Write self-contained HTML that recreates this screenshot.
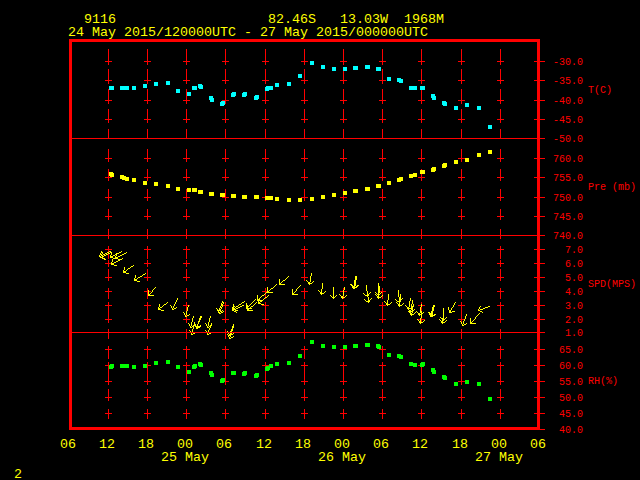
<!DOCTYPE html>
<html><head><meta charset="utf-8"><title>Meteogram 9116</title>
<style>
html,body{margin:0;padding:0;background:#000;overflow:hidden}
svg{display:block}
text{font-family:"Liberation Mono","DejaVu Sans Mono",monospace;white-space:pre}
</style></head><body>
<svg width="640" height="480" viewBox="0 0 640 480">
<rect width="640" height="480" fill="#000"/>
<g shape-rendering="crispEdges">
<g fill="#ff0000"><rect x="69" y="39" width="471" height="3"/><rect x="69" y="427" width="471" height="3"/><rect x="69" y="39" width="3" height="391"/><rect x="537" y="39" width="3" height="391"/><rect x="540" y="429" width="5" height="1"/><rect x="534" y="61" width="11" height="1"/><rect x="534" y="80" width="11" height="1"/><rect x="534" y="100" width="11" height="1"/><rect x="534" y="119" width="11" height="1"/><rect x="534" y="158" width="11" height="1"/><rect x="534" y="177" width="11" height="1"/><rect x="534" y="197" width="11" height="1"/><rect x="534" y="216" width="11" height="1"/><rect x="534" y="249" width="11" height="1"/><rect x="534" y="263" width="11" height="1"/><rect x="534" y="277" width="11" height="1"/><rect x="534" y="291" width="11" height="1"/><rect x="534" y="305" width="11" height="1"/><rect x="534" y="319" width="11" height="1"/><rect x="534" y="349" width="11" height="1"/><rect x="534" y="365" width="11" height="1"/><rect x="534" y="381" width="11" height="1"/><rect x="534" y="397" width="11" height="1"/><rect x="534" y="413" width="11" height="1"/><rect x="108" y="49" width="1" height="10"/><rect x="108" y="69" width="1" height="10"/><rect x="108" y="89" width="1" height="10"/><rect x="108" y="109" width="1" height="10"/><rect x="108" y="129" width="1" height="10"/><rect x="108" y="149" width="1" height="10"/><rect x="108" y="169" width="1" height="10"/><rect x="108" y="189" width="1" height="10"/><rect x="108" y="209" width="1" height="10"/><rect x="108" y="229" width="1" height="10"/><rect x="108" y="249" width="1" height="10"/><rect x="108" y="269" width="1" height="10"/><rect x="108" y="289" width="1" height="10"/><rect x="108" y="309" width="1" height="10"/><rect x="108" y="329" width="1" height="10"/><rect x="108" y="349" width="1" height="10"/><rect x="108" y="369" width="1" height="10"/><rect x="108" y="389" width="1" height="10"/><rect x="108" y="409" width="1" height="10"/><rect x="105" y="61" width="7" height="1"/><rect x="108" y="58" width="1" height="7"/><rect x="105" y="80" width="7" height="1"/><rect x="108" y="77" width="1" height="7"/><rect x="105" y="100" width="7" height="1"/><rect x="108" y="97" width="1" height="7"/><rect x="105" y="119" width="7" height="1"/><rect x="108" y="116" width="1" height="7"/><rect x="105" y="158" width="7" height="1"/><rect x="108" y="155" width="1" height="7"/><rect x="105" y="177" width="7" height="1"/><rect x="108" y="174" width="1" height="7"/><rect x="105" y="197" width="7" height="1"/><rect x="108" y="194" width="1" height="7"/><rect x="105" y="216" width="7" height="1"/><rect x="108" y="213" width="1" height="7"/><rect x="105" y="249" width="7" height="1"/><rect x="108" y="246" width="1" height="7"/><rect x="105" y="263" width="7" height="1"/><rect x="108" y="260" width="1" height="7"/><rect x="105" y="277" width="7" height="1"/><rect x="108" y="274" width="1" height="7"/><rect x="105" y="291" width="7" height="1"/><rect x="108" y="288" width="1" height="7"/><rect x="105" y="305" width="7" height="1"/><rect x="108" y="302" width="1" height="7"/><rect x="105" y="319" width="7" height="1"/><rect x="108" y="316" width="1" height="7"/><rect x="105" y="349" width="7" height="1"/><rect x="108" y="346" width="1" height="7"/><rect x="105" y="365" width="7" height="1"/><rect x="108" y="362" width="1" height="7"/><rect x="105" y="381" width="7" height="1"/><rect x="108" y="378" width="1" height="7"/><rect x="105" y="397" width="7" height="1"/><rect x="108" y="394" width="1" height="7"/><rect x="105" y="413" width="7" height="1"/><rect x="108" y="410" width="1" height="7"/><rect x="147" y="49" width="1" height="10"/><rect x="147" y="69" width="1" height="10"/><rect x="147" y="89" width="1" height="10"/><rect x="147" y="109" width="1" height="10"/><rect x="147" y="129" width="1" height="10"/><rect x="147" y="149" width="1" height="10"/><rect x="147" y="169" width="1" height="10"/><rect x="147" y="189" width="1" height="10"/><rect x="147" y="209" width="1" height="10"/><rect x="147" y="229" width="1" height="10"/><rect x="147" y="249" width="1" height="10"/><rect x="147" y="269" width="1" height="10"/><rect x="147" y="289" width="1" height="10"/><rect x="147" y="309" width="1" height="10"/><rect x="147" y="329" width="1" height="10"/><rect x="147" y="349" width="1" height="10"/><rect x="147" y="369" width="1" height="10"/><rect x="147" y="389" width="1" height="10"/><rect x="147" y="409" width="1" height="10"/><rect x="144" y="61" width="7" height="1"/><rect x="147" y="58" width="1" height="7"/><rect x="144" y="80" width="7" height="1"/><rect x="147" y="77" width="1" height="7"/><rect x="144" y="100" width="7" height="1"/><rect x="147" y="97" width="1" height="7"/><rect x="144" y="119" width="7" height="1"/><rect x="147" y="116" width="1" height="7"/><rect x="144" y="158" width="7" height="1"/><rect x="147" y="155" width="1" height="7"/><rect x="144" y="177" width="7" height="1"/><rect x="147" y="174" width="1" height="7"/><rect x="144" y="197" width="7" height="1"/><rect x="147" y="194" width="1" height="7"/><rect x="144" y="216" width="7" height="1"/><rect x="147" y="213" width="1" height="7"/><rect x="144" y="249" width="7" height="1"/><rect x="147" y="246" width="1" height="7"/><rect x="144" y="263" width="7" height="1"/><rect x="147" y="260" width="1" height="7"/><rect x="144" y="277" width="7" height="1"/><rect x="147" y="274" width="1" height="7"/><rect x="144" y="291" width="7" height="1"/><rect x="147" y="288" width="1" height="7"/><rect x="144" y="305" width="7" height="1"/><rect x="147" y="302" width="1" height="7"/><rect x="144" y="319" width="7" height="1"/><rect x="147" y="316" width="1" height="7"/><rect x="144" y="349" width="7" height="1"/><rect x="147" y="346" width="1" height="7"/><rect x="144" y="365" width="7" height="1"/><rect x="147" y="362" width="1" height="7"/><rect x="144" y="381" width="7" height="1"/><rect x="147" y="378" width="1" height="7"/><rect x="144" y="397" width="7" height="1"/><rect x="147" y="394" width="1" height="7"/><rect x="144" y="413" width="7" height="1"/><rect x="147" y="410" width="1" height="7"/><rect x="186" y="49" width="1" height="10"/><rect x="186" y="69" width="1" height="10"/><rect x="186" y="89" width="1" height="10"/><rect x="186" y="109" width="1" height="10"/><rect x="186" y="129" width="1" height="10"/><rect x="186" y="149" width="1" height="10"/><rect x="186" y="169" width="1" height="10"/><rect x="186" y="189" width="1" height="10"/><rect x="186" y="209" width="1" height="10"/><rect x="186" y="229" width="1" height="10"/><rect x="186" y="249" width="1" height="10"/><rect x="186" y="269" width="1" height="10"/><rect x="186" y="289" width="1" height="10"/><rect x="186" y="309" width="1" height="10"/><rect x="186" y="329" width="1" height="10"/><rect x="186" y="349" width="1" height="10"/><rect x="186" y="369" width="1" height="10"/><rect x="186" y="389" width="1" height="10"/><rect x="186" y="409" width="1" height="10"/><rect x="183" y="61" width="7" height="1"/><rect x="186" y="58" width="1" height="7"/><rect x="183" y="80" width="7" height="1"/><rect x="186" y="77" width="1" height="7"/><rect x="183" y="100" width="7" height="1"/><rect x="186" y="97" width="1" height="7"/><rect x="183" y="119" width="7" height="1"/><rect x="186" y="116" width="1" height="7"/><rect x="183" y="158" width="7" height="1"/><rect x="186" y="155" width="1" height="7"/><rect x="183" y="177" width="7" height="1"/><rect x="186" y="174" width="1" height="7"/><rect x="183" y="197" width="7" height="1"/><rect x="186" y="194" width="1" height="7"/><rect x="183" y="216" width="7" height="1"/><rect x="186" y="213" width="1" height="7"/><rect x="183" y="249" width="7" height="1"/><rect x="186" y="246" width="1" height="7"/><rect x="183" y="263" width="7" height="1"/><rect x="186" y="260" width="1" height="7"/><rect x="183" y="277" width="7" height="1"/><rect x="186" y="274" width="1" height="7"/><rect x="183" y="291" width="7" height="1"/><rect x="186" y="288" width="1" height="7"/><rect x="183" y="305" width="7" height="1"/><rect x="186" y="302" width="1" height="7"/><rect x="183" y="319" width="7" height="1"/><rect x="186" y="316" width="1" height="7"/><rect x="183" y="349" width="7" height="1"/><rect x="186" y="346" width="1" height="7"/><rect x="183" y="365" width="7" height="1"/><rect x="186" y="362" width="1" height="7"/><rect x="183" y="381" width="7" height="1"/><rect x="186" y="378" width="1" height="7"/><rect x="183" y="397" width="7" height="1"/><rect x="186" y="394" width="1" height="7"/><rect x="183" y="413" width="7" height="1"/><rect x="186" y="410" width="1" height="7"/><rect x="225" y="49" width="1" height="10"/><rect x="225" y="69" width="1" height="10"/><rect x="225" y="89" width="1" height="10"/><rect x="225" y="109" width="1" height="10"/><rect x="225" y="129" width="1" height="10"/><rect x="225" y="149" width="1" height="10"/><rect x="225" y="169" width="1" height="10"/><rect x="225" y="189" width="1" height="10"/><rect x="225" y="209" width="1" height="10"/><rect x="225" y="229" width="1" height="10"/><rect x="225" y="249" width="1" height="10"/><rect x="225" y="269" width="1" height="10"/><rect x="225" y="289" width="1" height="10"/><rect x="225" y="309" width="1" height="10"/><rect x="225" y="329" width="1" height="10"/><rect x="225" y="349" width="1" height="10"/><rect x="225" y="369" width="1" height="10"/><rect x="225" y="389" width="1" height="10"/><rect x="225" y="409" width="1" height="10"/><rect x="222" y="61" width="7" height="1"/><rect x="225" y="58" width="1" height="7"/><rect x="222" y="80" width="7" height="1"/><rect x="225" y="77" width="1" height="7"/><rect x="222" y="100" width="7" height="1"/><rect x="225" y="97" width="1" height="7"/><rect x="222" y="119" width="7" height="1"/><rect x="225" y="116" width="1" height="7"/><rect x="222" y="158" width="7" height="1"/><rect x="225" y="155" width="1" height="7"/><rect x="222" y="177" width="7" height="1"/><rect x="225" y="174" width="1" height="7"/><rect x="222" y="197" width="7" height="1"/><rect x="225" y="194" width="1" height="7"/><rect x="222" y="216" width="7" height="1"/><rect x="225" y="213" width="1" height="7"/><rect x="222" y="249" width="7" height="1"/><rect x="225" y="246" width="1" height="7"/><rect x="222" y="263" width="7" height="1"/><rect x="225" y="260" width="1" height="7"/><rect x="222" y="277" width="7" height="1"/><rect x="225" y="274" width="1" height="7"/><rect x="222" y="291" width="7" height="1"/><rect x="225" y="288" width="1" height="7"/><rect x="222" y="305" width="7" height="1"/><rect x="225" y="302" width="1" height="7"/><rect x="222" y="319" width="7" height="1"/><rect x="225" y="316" width="1" height="7"/><rect x="222" y="349" width="7" height="1"/><rect x="225" y="346" width="1" height="7"/><rect x="222" y="365" width="7" height="1"/><rect x="225" y="362" width="1" height="7"/><rect x="222" y="381" width="7" height="1"/><rect x="225" y="378" width="1" height="7"/><rect x="222" y="397" width="7" height="1"/><rect x="225" y="394" width="1" height="7"/><rect x="222" y="413" width="7" height="1"/><rect x="225" y="410" width="1" height="7"/><rect x="265" y="49" width="1" height="10"/><rect x="265" y="69" width="1" height="10"/><rect x="265" y="89" width="1" height="10"/><rect x="265" y="109" width="1" height="10"/><rect x="265" y="129" width="1" height="10"/><rect x="265" y="149" width="1" height="10"/><rect x="265" y="169" width="1" height="10"/><rect x="265" y="189" width="1" height="10"/><rect x="265" y="209" width="1" height="10"/><rect x="265" y="229" width="1" height="10"/><rect x="265" y="249" width="1" height="10"/><rect x="265" y="269" width="1" height="10"/><rect x="265" y="289" width="1" height="10"/><rect x="265" y="309" width="1" height="10"/><rect x="265" y="329" width="1" height="10"/><rect x="265" y="349" width="1" height="10"/><rect x="265" y="369" width="1" height="10"/><rect x="265" y="389" width="1" height="10"/><rect x="265" y="409" width="1" height="10"/><rect x="262" y="61" width="7" height="1"/><rect x="265" y="58" width="1" height="7"/><rect x="262" y="80" width="7" height="1"/><rect x="265" y="77" width="1" height="7"/><rect x="262" y="100" width="7" height="1"/><rect x="265" y="97" width="1" height="7"/><rect x="262" y="119" width="7" height="1"/><rect x="265" y="116" width="1" height="7"/><rect x="262" y="158" width="7" height="1"/><rect x="265" y="155" width="1" height="7"/><rect x="262" y="177" width="7" height="1"/><rect x="265" y="174" width="1" height="7"/><rect x="262" y="197" width="7" height="1"/><rect x="265" y="194" width="1" height="7"/><rect x="262" y="216" width="7" height="1"/><rect x="265" y="213" width="1" height="7"/><rect x="262" y="249" width="7" height="1"/><rect x="265" y="246" width="1" height="7"/><rect x="262" y="263" width="7" height="1"/><rect x="265" y="260" width="1" height="7"/><rect x="262" y="277" width="7" height="1"/><rect x="265" y="274" width="1" height="7"/><rect x="262" y="291" width="7" height="1"/><rect x="265" y="288" width="1" height="7"/><rect x="262" y="305" width="7" height="1"/><rect x="265" y="302" width="1" height="7"/><rect x="262" y="319" width="7" height="1"/><rect x="265" y="316" width="1" height="7"/><rect x="262" y="349" width="7" height="1"/><rect x="265" y="346" width="1" height="7"/><rect x="262" y="365" width="7" height="1"/><rect x="265" y="362" width="1" height="7"/><rect x="262" y="381" width="7" height="1"/><rect x="265" y="378" width="1" height="7"/><rect x="262" y="397" width="7" height="1"/><rect x="265" y="394" width="1" height="7"/><rect x="262" y="413" width="7" height="1"/><rect x="265" y="410" width="1" height="7"/><rect x="304" y="49" width="1" height="10"/><rect x="304" y="69" width="1" height="10"/><rect x="304" y="89" width="1" height="10"/><rect x="304" y="109" width="1" height="10"/><rect x="304" y="129" width="1" height="10"/><rect x="304" y="149" width="1" height="10"/><rect x="304" y="169" width="1" height="10"/><rect x="304" y="189" width="1" height="10"/><rect x="304" y="209" width="1" height="10"/><rect x="304" y="229" width="1" height="10"/><rect x="304" y="249" width="1" height="10"/><rect x="304" y="269" width="1" height="10"/><rect x="304" y="289" width="1" height="10"/><rect x="304" y="309" width="1" height="10"/><rect x="304" y="329" width="1" height="10"/><rect x="304" y="349" width="1" height="10"/><rect x="304" y="369" width="1" height="10"/><rect x="304" y="389" width="1" height="10"/><rect x="304" y="409" width="1" height="10"/><rect x="301" y="61" width="7" height="1"/><rect x="304" y="58" width="1" height="7"/><rect x="301" y="80" width="7" height="1"/><rect x="304" y="77" width="1" height="7"/><rect x="301" y="100" width="7" height="1"/><rect x="304" y="97" width="1" height="7"/><rect x="301" y="119" width="7" height="1"/><rect x="304" y="116" width="1" height="7"/><rect x="301" y="158" width="7" height="1"/><rect x="304" y="155" width="1" height="7"/><rect x="301" y="177" width="7" height="1"/><rect x="304" y="174" width="1" height="7"/><rect x="301" y="197" width="7" height="1"/><rect x="304" y="194" width="1" height="7"/><rect x="301" y="216" width="7" height="1"/><rect x="304" y="213" width="1" height="7"/><rect x="301" y="249" width="7" height="1"/><rect x="304" y="246" width="1" height="7"/><rect x="301" y="263" width="7" height="1"/><rect x="304" y="260" width="1" height="7"/><rect x="301" y="277" width="7" height="1"/><rect x="304" y="274" width="1" height="7"/><rect x="301" y="291" width="7" height="1"/><rect x="304" y="288" width="1" height="7"/><rect x="301" y="305" width="7" height="1"/><rect x="304" y="302" width="1" height="7"/><rect x="301" y="319" width="7" height="1"/><rect x="304" y="316" width="1" height="7"/><rect x="301" y="349" width="7" height="1"/><rect x="304" y="346" width="1" height="7"/><rect x="301" y="365" width="7" height="1"/><rect x="304" y="362" width="1" height="7"/><rect x="301" y="381" width="7" height="1"/><rect x="304" y="378" width="1" height="7"/><rect x="301" y="397" width="7" height="1"/><rect x="304" y="394" width="1" height="7"/><rect x="301" y="413" width="7" height="1"/><rect x="304" y="410" width="1" height="7"/><rect x="343" y="49" width="1" height="10"/><rect x="343" y="69" width="1" height="10"/><rect x="343" y="89" width="1" height="10"/><rect x="343" y="109" width="1" height="10"/><rect x="343" y="129" width="1" height="10"/><rect x="343" y="149" width="1" height="10"/><rect x="343" y="169" width="1" height="10"/><rect x="343" y="189" width="1" height="10"/><rect x="343" y="209" width="1" height="10"/><rect x="343" y="229" width="1" height="10"/><rect x="343" y="249" width="1" height="10"/><rect x="343" y="269" width="1" height="10"/><rect x="343" y="289" width="1" height="10"/><rect x="343" y="309" width="1" height="10"/><rect x="343" y="329" width="1" height="10"/><rect x="343" y="349" width="1" height="10"/><rect x="343" y="369" width="1" height="10"/><rect x="343" y="389" width="1" height="10"/><rect x="343" y="409" width="1" height="10"/><rect x="340" y="61" width="7" height="1"/><rect x="343" y="58" width="1" height="7"/><rect x="340" y="80" width="7" height="1"/><rect x="343" y="77" width="1" height="7"/><rect x="340" y="100" width="7" height="1"/><rect x="343" y="97" width="1" height="7"/><rect x="340" y="119" width="7" height="1"/><rect x="343" y="116" width="1" height="7"/><rect x="340" y="158" width="7" height="1"/><rect x="343" y="155" width="1" height="7"/><rect x="340" y="177" width="7" height="1"/><rect x="343" y="174" width="1" height="7"/><rect x="340" y="197" width="7" height="1"/><rect x="343" y="194" width="1" height="7"/><rect x="340" y="216" width="7" height="1"/><rect x="343" y="213" width="1" height="7"/><rect x="340" y="249" width="7" height="1"/><rect x="343" y="246" width="1" height="7"/><rect x="340" y="263" width="7" height="1"/><rect x="343" y="260" width="1" height="7"/><rect x="340" y="277" width="7" height="1"/><rect x="343" y="274" width="1" height="7"/><rect x="340" y="291" width="7" height="1"/><rect x="343" y="288" width="1" height="7"/><rect x="340" y="305" width="7" height="1"/><rect x="343" y="302" width="1" height="7"/><rect x="340" y="319" width="7" height="1"/><rect x="343" y="316" width="1" height="7"/><rect x="340" y="349" width="7" height="1"/><rect x="343" y="346" width="1" height="7"/><rect x="340" y="365" width="7" height="1"/><rect x="343" y="362" width="1" height="7"/><rect x="340" y="381" width="7" height="1"/><rect x="343" y="378" width="1" height="7"/><rect x="340" y="397" width="7" height="1"/><rect x="343" y="394" width="1" height="7"/><rect x="340" y="413" width="7" height="1"/><rect x="343" y="410" width="1" height="7"/><rect x="382" y="49" width="1" height="10"/><rect x="382" y="69" width="1" height="10"/><rect x="382" y="89" width="1" height="10"/><rect x="382" y="109" width="1" height="10"/><rect x="382" y="129" width="1" height="10"/><rect x="382" y="149" width="1" height="10"/><rect x="382" y="169" width="1" height="10"/><rect x="382" y="189" width="1" height="10"/><rect x="382" y="209" width="1" height="10"/><rect x="382" y="229" width="1" height="10"/><rect x="382" y="249" width="1" height="10"/><rect x="382" y="269" width="1" height="10"/><rect x="382" y="289" width="1" height="10"/><rect x="382" y="309" width="1" height="10"/><rect x="382" y="329" width="1" height="10"/><rect x="382" y="349" width="1" height="10"/><rect x="382" y="369" width="1" height="10"/><rect x="382" y="389" width="1" height="10"/><rect x="382" y="409" width="1" height="10"/><rect x="379" y="61" width="7" height="1"/><rect x="382" y="58" width="1" height="7"/><rect x="379" y="80" width="7" height="1"/><rect x="382" y="77" width="1" height="7"/><rect x="379" y="100" width="7" height="1"/><rect x="382" y="97" width="1" height="7"/><rect x="379" y="119" width="7" height="1"/><rect x="382" y="116" width="1" height="7"/><rect x="379" y="158" width="7" height="1"/><rect x="382" y="155" width="1" height="7"/><rect x="379" y="177" width="7" height="1"/><rect x="382" y="174" width="1" height="7"/><rect x="379" y="197" width="7" height="1"/><rect x="382" y="194" width="1" height="7"/><rect x="379" y="216" width="7" height="1"/><rect x="382" y="213" width="1" height="7"/><rect x="379" y="249" width="7" height="1"/><rect x="382" y="246" width="1" height="7"/><rect x="379" y="263" width="7" height="1"/><rect x="382" y="260" width="1" height="7"/><rect x="379" y="277" width="7" height="1"/><rect x="382" y="274" width="1" height="7"/><rect x="379" y="291" width="7" height="1"/><rect x="382" y="288" width="1" height="7"/><rect x="379" y="305" width="7" height="1"/><rect x="382" y="302" width="1" height="7"/><rect x="379" y="319" width="7" height="1"/><rect x="382" y="316" width="1" height="7"/><rect x="379" y="349" width="7" height="1"/><rect x="382" y="346" width="1" height="7"/><rect x="379" y="365" width="7" height="1"/><rect x="382" y="362" width="1" height="7"/><rect x="379" y="381" width="7" height="1"/><rect x="382" y="378" width="1" height="7"/><rect x="379" y="397" width="7" height="1"/><rect x="382" y="394" width="1" height="7"/><rect x="379" y="413" width="7" height="1"/><rect x="382" y="410" width="1" height="7"/><rect x="421" y="49" width="1" height="10"/><rect x="421" y="69" width="1" height="10"/><rect x="421" y="89" width="1" height="10"/><rect x="421" y="109" width="1" height="10"/><rect x="421" y="129" width="1" height="10"/><rect x="421" y="149" width="1" height="10"/><rect x="421" y="169" width="1" height="10"/><rect x="421" y="189" width="1" height="10"/><rect x="421" y="209" width="1" height="10"/><rect x="421" y="229" width="1" height="10"/><rect x="421" y="249" width="1" height="10"/><rect x="421" y="269" width="1" height="10"/><rect x="421" y="289" width="1" height="10"/><rect x="421" y="309" width="1" height="10"/><rect x="421" y="329" width="1" height="10"/><rect x="421" y="349" width="1" height="10"/><rect x="421" y="369" width="1" height="10"/><rect x="421" y="389" width="1" height="10"/><rect x="421" y="409" width="1" height="10"/><rect x="418" y="61" width="7" height="1"/><rect x="421" y="58" width="1" height="7"/><rect x="418" y="80" width="7" height="1"/><rect x="421" y="77" width="1" height="7"/><rect x="418" y="100" width="7" height="1"/><rect x="421" y="97" width="1" height="7"/><rect x="418" y="119" width="7" height="1"/><rect x="421" y="116" width="1" height="7"/><rect x="418" y="158" width="7" height="1"/><rect x="421" y="155" width="1" height="7"/><rect x="418" y="177" width="7" height="1"/><rect x="421" y="174" width="1" height="7"/><rect x="418" y="197" width="7" height="1"/><rect x="421" y="194" width="1" height="7"/><rect x="418" y="216" width="7" height="1"/><rect x="421" y="213" width="1" height="7"/><rect x="418" y="249" width="7" height="1"/><rect x="421" y="246" width="1" height="7"/><rect x="418" y="263" width="7" height="1"/><rect x="421" y="260" width="1" height="7"/><rect x="418" y="277" width="7" height="1"/><rect x="421" y="274" width="1" height="7"/><rect x="418" y="291" width="7" height="1"/><rect x="421" y="288" width="1" height="7"/><rect x="418" y="305" width="7" height="1"/><rect x="421" y="302" width="1" height="7"/><rect x="418" y="319" width="7" height="1"/><rect x="421" y="316" width="1" height="7"/><rect x="418" y="349" width="7" height="1"/><rect x="421" y="346" width="1" height="7"/><rect x="418" y="365" width="7" height="1"/><rect x="421" y="362" width="1" height="7"/><rect x="418" y="381" width="7" height="1"/><rect x="421" y="378" width="1" height="7"/><rect x="418" y="397" width="7" height="1"/><rect x="421" y="394" width="1" height="7"/><rect x="418" y="413" width="7" height="1"/><rect x="421" y="410" width="1" height="7"/><rect x="461" y="49" width="1" height="10"/><rect x="461" y="69" width="1" height="10"/><rect x="461" y="89" width="1" height="10"/><rect x="461" y="109" width="1" height="10"/><rect x="461" y="129" width="1" height="10"/><rect x="461" y="149" width="1" height="10"/><rect x="461" y="169" width="1" height="10"/><rect x="461" y="189" width="1" height="10"/><rect x="461" y="209" width="1" height="10"/><rect x="461" y="229" width="1" height="10"/><rect x="461" y="249" width="1" height="10"/><rect x="461" y="269" width="1" height="10"/><rect x="461" y="289" width="1" height="10"/><rect x="461" y="309" width="1" height="10"/><rect x="461" y="329" width="1" height="10"/><rect x="461" y="349" width="1" height="10"/><rect x="461" y="369" width="1" height="10"/><rect x="461" y="389" width="1" height="10"/><rect x="461" y="409" width="1" height="10"/><rect x="458" y="61" width="7" height="1"/><rect x="461" y="58" width="1" height="7"/><rect x="458" y="80" width="7" height="1"/><rect x="461" y="77" width="1" height="7"/><rect x="458" y="100" width="7" height="1"/><rect x="461" y="97" width="1" height="7"/><rect x="458" y="119" width="7" height="1"/><rect x="461" y="116" width="1" height="7"/><rect x="458" y="158" width="7" height="1"/><rect x="461" y="155" width="1" height="7"/><rect x="458" y="177" width="7" height="1"/><rect x="461" y="174" width="1" height="7"/><rect x="458" y="197" width="7" height="1"/><rect x="461" y="194" width="1" height="7"/><rect x="458" y="216" width="7" height="1"/><rect x="461" y="213" width="1" height="7"/><rect x="458" y="249" width="7" height="1"/><rect x="461" y="246" width="1" height="7"/><rect x="458" y="263" width="7" height="1"/><rect x="461" y="260" width="1" height="7"/><rect x="458" y="277" width="7" height="1"/><rect x="461" y="274" width="1" height="7"/><rect x="458" y="291" width="7" height="1"/><rect x="461" y="288" width="1" height="7"/><rect x="458" y="305" width="7" height="1"/><rect x="461" y="302" width="1" height="7"/><rect x="458" y="319" width="7" height="1"/><rect x="461" y="316" width="1" height="7"/><rect x="458" y="349" width="7" height="1"/><rect x="461" y="346" width="1" height="7"/><rect x="458" y="365" width="7" height="1"/><rect x="461" y="362" width="1" height="7"/><rect x="458" y="381" width="7" height="1"/><rect x="461" y="378" width="1" height="7"/><rect x="458" y="397" width="7" height="1"/><rect x="461" y="394" width="1" height="7"/><rect x="458" y="413" width="7" height="1"/><rect x="461" y="410" width="1" height="7"/><rect x="500" y="49" width="1" height="10"/><rect x="500" y="69" width="1" height="10"/><rect x="500" y="89" width="1" height="10"/><rect x="500" y="109" width="1" height="10"/><rect x="500" y="129" width="1" height="10"/><rect x="500" y="149" width="1" height="10"/><rect x="500" y="169" width="1" height="10"/><rect x="500" y="189" width="1" height="10"/><rect x="500" y="209" width="1" height="10"/><rect x="500" y="229" width="1" height="10"/><rect x="500" y="249" width="1" height="10"/><rect x="500" y="269" width="1" height="10"/><rect x="500" y="289" width="1" height="10"/><rect x="500" y="309" width="1" height="10"/><rect x="500" y="329" width="1" height="10"/><rect x="500" y="349" width="1" height="10"/><rect x="500" y="369" width="1" height="10"/><rect x="500" y="389" width="1" height="10"/><rect x="500" y="409" width="1" height="10"/><rect x="497" y="61" width="7" height="1"/><rect x="500" y="58" width="1" height="7"/><rect x="497" y="80" width="7" height="1"/><rect x="500" y="77" width="1" height="7"/><rect x="497" y="100" width="7" height="1"/><rect x="500" y="97" width="1" height="7"/><rect x="497" y="119" width="7" height="1"/><rect x="500" y="116" width="1" height="7"/><rect x="497" y="158" width="7" height="1"/><rect x="500" y="155" width="1" height="7"/><rect x="497" y="177" width="7" height="1"/><rect x="500" y="174" width="1" height="7"/><rect x="497" y="197" width="7" height="1"/><rect x="500" y="194" width="1" height="7"/><rect x="497" y="216" width="7" height="1"/><rect x="500" y="213" width="1" height="7"/><rect x="497" y="249" width="7" height="1"/><rect x="500" y="246" width="1" height="7"/><rect x="497" y="263" width="7" height="1"/><rect x="500" y="260" width="1" height="7"/><rect x="497" y="277" width="7" height="1"/><rect x="500" y="274" width="1" height="7"/><rect x="497" y="291" width="7" height="1"/><rect x="500" y="288" width="1" height="7"/><rect x="497" y="305" width="7" height="1"/><rect x="500" y="302" width="1" height="7"/><rect x="497" y="319" width="7" height="1"/><rect x="500" y="316" width="1" height="7"/><rect x="497" y="349" width="7" height="1"/><rect x="500" y="346" width="1" height="7"/><rect x="497" y="365" width="7" height="1"/><rect x="500" y="362" width="1" height="7"/><rect x="497" y="381" width="7" height="1"/><rect x="500" y="378" width="1" height="7"/><rect x="497" y="397" width="7" height="1"/><rect x="500" y="394" width="1" height="7"/><rect x="497" y="413" width="7" height="1"/><rect x="500" y="410" width="1" height="7"/></g>
<g fill="#00ffff"><rect x="109" y="86" width="4" height="4"/><rect x="110" y="86" width="4" height="4"/><rect x="120" y="86" width="4" height="4"/><rect x="122" y="86" width="4" height="4"/><rect x="125" y="86" width="4" height="4"/><rect x="132" y="86" width="4" height="4"/><rect x="143" y="84" width="4" height="4"/><rect x="154" y="82" width="4" height="4"/><rect x="166" y="81" width="4" height="4"/><rect x="176" y="89" width="4" height="4"/><rect x="187" y="92" width="4" height="4"/><rect x="192" y="86" width="4" height="4"/><rect x="193" y="86" width="4" height="4"/><rect x="198" y="84" width="4" height="4"/><rect x="199" y="85" width="4" height="4"/><rect x="209" y="96" width="4" height="4"/><rect x="210" y="98" width="4" height="4"/><rect x="221" y="101" width="4" height="4"/><rect x="220" y="102" width="4" height="4"/><rect x="232" y="92" width="4" height="4"/><rect x="231" y="93" width="4" height="4"/><rect x="243" y="92" width="4" height="4"/><rect x="242" y="93" width="4" height="4"/><rect x="255" y="95" width="4" height="4"/><rect x="254" y="96" width="4" height="4"/><rect x="265" y="87" width="4" height="4"/><rect x="266" y="86" width="4" height="4"/><rect x="269" y="86" width="4" height="4"/><rect x="275" y="83" width="4" height="4"/><rect x="287" y="82" width="4" height="4"/><rect x="298" y="74" width="4" height="4"/><rect x="310" y="61" width="4" height="4"/><rect x="321" y="65" width="4" height="4"/><rect x="332" y="67" width="4" height="4"/><rect x="343" y="67" width="4" height="4"/><rect x="353" y="66" width="4" height="4"/><rect x="354" y="66" width="4" height="4"/><rect x="365" y="65" width="4" height="4"/><rect x="366" y="65" width="4" height="4"/><rect x="376" y="67" width="4" height="4"/><rect x="377" y="67" width="4" height="4"/><rect x="387" y="77" width="4" height="4"/><rect x="397" y="78" width="4" height="4"/><rect x="399" y="79" width="4" height="4"/><rect x="409" y="86" width="4" height="4"/><rect x="413" y="86" width="4" height="4"/><rect x="420" y="86" width="4" height="4"/><rect x="421" y="86" width="4" height="4"/><rect x="431" y="94" width="4" height="4"/><rect x="432" y="96" width="4" height="4"/><rect x="442" y="101" width="4" height="4"/><rect x="443" y="102" width="4" height="4"/><rect x="454" y="106" width="4" height="4"/><rect x="465" y="103" width="4" height="4"/><rect x="477" y="106" width="4" height="4"/><rect x="488" y="125" width="4" height="4"/></g>
<g fill="#ffff00"><rect x="109" y="172" width="4" height="4"/><rect x="110" y="173" width="4" height="4"/><rect x="120" y="175" width="4" height="4"/><rect x="122" y="176" width="4" height="4"/><rect x="125" y="177" width="4" height="4"/><rect x="132" y="178" width="4" height="4"/><rect x="143" y="181" width="4" height="4"/><rect x="154" y="182" width="4" height="4"/><rect x="166" y="184" width="4" height="4"/><rect x="176" y="187" width="4" height="4"/><rect x="187" y="188" width="4" height="4"/><rect x="192" y="188" width="4" height="4"/><rect x="193" y="188" width="4" height="4"/><rect x="198" y="190" width="4" height="4"/><rect x="199" y="190" width="4" height="4"/><rect x="209" y="192" width="4" height="4"/><rect x="210" y="192" width="4" height="4"/><rect x="220" y="193" width="4" height="4"/><rect x="221" y="193" width="4" height="4"/><rect x="231" y="194" width="4" height="4"/><rect x="232" y="194" width="4" height="4"/><rect x="242" y="195" width="4" height="4"/><rect x="243" y="195" width="4" height="4"/><rect x="254" y="195" width="4" height="4"/><rect x="255" y="195" width="4" height="4"/><rect x="265" y="196" width="4" height="4"/><rect x="266" y="196" width="4" height="4"/><rect x="269" y="196" width="4" height="4"/><rect x="275" y="197" width="4" height="4"/><rect x="287" y="198" width="4" height="4"/><rect x="298" y="198" width="4" height="4"/><rect x="310" y="197" width="4" height="4"/><rect x="321" y="195" width="4" height="4"/><rect x="332" y="193" width="4" height="4"/><rect x="343" y="191" width="4" height="4"/><rect x="353" y="189" width="4" height="4"/><rect x="354" y="189" width="4" height="4"/><rect x="365" y="187" width="4" height="4"/><rect x="366" y="187" width="4" height="4"/><rect x="376" y="184" width="4" height="4"/><rect x="377" y="184" width="4" height="4"/><rect x="387" y="181" width="4" height="4"/><rect x="397" y="178" width="4" height="4"/><rect x="399" y="177" width="4" height="4"/><rect x="409" y="174" width="4" height="4"/><rect x="413" y="173" width="4" height="4"/><rect x="420" y="170" width="4" height="4"/><rect x="421" y="170" width="4" height="4"/><rect x="431" y="168" width="4" height="4"/><rect x="432" y="167" width="4" height="4"/><rect x="442" y="164" width="4" height="4"/><rect x="443" y="163" width="4" height="4"/><rect x="454" y="160" width="4" height="4"/><rect x="465" y="158" width="4" height="4"/><rect x="477" y="153" width="4" height="4"/><rect x="488" y="150" width="4" height="4"/></g>
<g fill="#00ff00"><rect x="110" y="364" width="4" height="4"/><rect x="109" y="365" width="4" height="4"/><rect x="120" y="364" width="4" height="4"/><rect x="122" y="364" width="4" height="4"/><rect x="125" y="364" width="4" height="4"/><rect x="132" y="365" width="4" height="4"/><rect x="143" y="364" width="4" height="4"/><rect x="154" y="361" width="4" height="4"/><rect x="166" y="360" width="4" height="4"/><rect x="176" y="365" width="4" height="4"/><rect x="187" y="370" width="4" height="4"/><rect x="193" y="364" width="4" height="4"/><rect x="192" y="365" width="4" height="4"/><rect x="198" y="362" width="4" height="4"/><rect x="199" y="363" width="4" height="4"/><rect x="209" y="371" width="4" height="4"/><rect x="210" y="373" width="4" height="4"/><rect x="221" y="378" width="4" height="4"/><rect x="220" y="379" width="4" height="4"/><rect x="231" y="371" width="4" height="4"/><rect x="232" y="371" width="4" height="4"/><rect x="243" y="371" width="4" height="4"/><rect x="242" y="372" width="4" height="4"/><rect x="255" y="373" width="4" height="4"/><rect x="254" y="374" width="4" height="4"/><rect x="265" y="367" width="4" height="4"/><rect x="266" y="366" width="4" height="4"/><rect x="269" y="364" width="4" height="4"/><rect x="275" y="362" width="4" height="4"/><rect x="287" y="361" width="4" height="4"/><rect x="298" y="354" width="4" height="4"/><rect x="310" y="340" width="4" height="4"/><rect x="321" y="344" width="4" height="4"/><rect x="332" y="345" width="4" height="4"/><rect x="343" y="345" width="4" height="4"/><rect x="353" y="344" width="4" height="4"/><rect x="354" y="344" width="4" height="4"/><rect x="365" y="343" width="4" height="4"/><rect x="366" y="343" width="4" height="4"/><rect x="376" y="344" width="4" height="4"/><rect x="377" y="345" width="4" height="4"/><rect x="387" y="353" width="4" height="4"/><rect x="397" y="354" width="4" height="4"/><rect x="399" y="355" width="4" height="4"/><rect x="409" y="362" width="4" height="4"/><rect x="413" y="363" width="4" height="4"/><rect x="421" y="362" width="4" height="4"/><rect x="420" y="363" width="4" height="4"/><rect x="431" y="368" width="4" height="4"/><rect x="432" y="370" width="4" height="4"/><rect x="442" y="375" width="4" height="4"/><rect x="443" y="376" width="4" height="4"/><rect x="454" y="382" width="4" height="4"/><rect x="465" y="380" width="4" height="4"/><rect x="477" y="382" width="4" height="4"/><rect x="488" y="397" width="4" height="4"/></g>
<path d="M101 251h1v1h-1zM109 251h2v1h-2zM121 251h1v1h-1zM101 252h2v1h-2zM107 252h2v1h-2zM110 252h2v1h-2zM119 252h2v1h-2zM126 252h1v1h-1zM100 253h1v1h-1zM102 253h1v1h-1zM105 253h2v1h-2zM108 253h2v1h-2zM111 253h1v1h-1zM116 253h3v1h-3zM124 253h2v1h-2zM100 254h2v1h-2zM103 254h2v1h-2zM106 254h2v1h-2zM111 254h1v1h-1zM115 254h2v1h-2zM122 254h2v1h-2zM99 255h1v1h-1zM101 255h2v1h-2zM104 255h2v1h-2zM110 255h1v1h-1zM113 255h2v1h-2zM116 255h1v1h-1zM120 255h2v1h-2zM99 256h2v1h-2zM102 256h2v1h-2zM110 256h3v1h-3zM115 256h1v1h-1zM118 256h2v1h-2zM100 257h3v1h-3zM110 257h3v1h-3zM115 257h3v1h-3zM102 258h3v1h-3zM113 258h5v1h-5zM122 258h1v1h-1zM104 259h2v1h-2zM112 259h1v1h-1zM118 259h4v1h-4zM112 260h1v1h-1zM118 260h2v1h-2zM112 261h1v1h-1zM116 261h2v1h-2zM111 262h1v1h-1zM114 262h2v1h-2zM111 263h3v1h-3zM111 264h3v1h-3zM114 265h3v1h-3zM133 265h1v1h-1zM131 266h2v1h-2zM124 267h1v1h-1zM130 267h1v1h-1zM124 268h1v1h-1zM128 268h2v1h-2zM124 269h1v1h-1zM127 269h1v1h-1zM123 270h1v1h-1zM126 270h1v1h-1zM123 271h3v1h-3zM123 272h3v1h-3zM126 273h3v1h-3zM145 273h1v1h-1zM311 273h1v1h-1zM143 274h2v1h-2zM311 274h1v1h-1zM135 275h1v1h-1zM142 275h1v1h-1zM311 275h1v1h-1zM135 276h1v1h-1zM140 276h2v1h-2zM288 276h1v1h-1zM310 276h1v1h-1zM355 276h2v1h-2zM135 277h1v1h-1zM138 277h2v1h-2zM287 277h1v1h-1zM310 277h1v1h-1zM355 277h2v1h-2zM134 278h1v1h-1zM137 278h1v1h-1zM286 278h1v1h-1zM310 278h1v1h-1zM355 278h2v1h-2zM134 279h3v1h-3zM279 279h1v1h-1zM285 279h1v1h-1zM310 279h1v1h-1zM355 279h2v1h-2zM134 280h3v1h-3zM279 280h1v1h-1zM283 280h2v1h-2zM306 280h1v1h-1zM310 280h1v1h-1zM354 280h2v1h-2zM137 281h3v1h-3zM279 281h1v1h-1zM282 281h1v1h-1zM307 281h1v1h-1zM310 281h1v1h-1zM313 281h1v1h-1zM354 281h2v1h-2zM279 282h1v1h-1zM281 282h1v1h-1zM308 282h2v1h-2zM312 282h1v1h-1zM354 282h2v1h-2zM279 283h2v1h-2zM308 283h4v1h-4zM322 283h1v1h-1zM354 283h2v1h-2zM378 283h1v1h-1zM276 284h1v1h-1zM279 284h6v1h-6zM309 284h1v1h-1zM322 284h1v1h-1zM350 284h2v1h-2zM354 284h2v1h-2zM378 284h1v1h-1zM275 285h1v1h-1zM300 285h1v1h-1zM322 285h1v1h-1zM351 285h2v1h-2zM354 285h2v1h-2zM357 285h2v1h-2zM366 285h1v1h-1zM378 285h1v1h-1zM274 286h1v1h-1zM299 286h1v1h-1zM322 286h1v1h-1zM352 286h3v1h-3zM356 286h2v1h-2zM366 286h1v1h-1zM378 286h2v1h-2zM155 287h1v1h-1zM267 287h1v1h-1zM273 287h1v1h-1zM298 287h1v1h-1zM322 287h1v1h-1zM333 287h1v1h-1zM344 287h1v1h-1zM352 287h5v1h-5zM366 287h1v1h-1zM378 287h2v1h-2zM154 288h1v1h-1zM267 288h1v1h-1zM271 288h2v1h-2zM297 288h1v1h-1zM322 288h1v1h-1zM333 288h1v1h-1zM344 288h1v1h-1zM353 288h2v1h-2zM366 288h1v1h-1zM378 288h2v1h-2zM153 289h1v1h-1zM267 289h1v1h-1zM270 289h1v1h-1zM292 289h1v1h-1zM296 289h1v1h-1zM321 289h1v1h-1zM333 289h1v1h-1zM344 289h1v1h-1zM366 289h1v1h-1zM378 289h2v1h-2zM148 290h1v1h-1zM152 290h1v1h-1zM267 290h1v1h-1zM269 290h1v1h-1zM292 290h1v1h-1zM296 290h1v1h-1zM318 290h1v1h-1zM321 290h1v1h-1zM333 290h1v1h-1zM343 290h1v1h-1zM366 290h1v1h-1zM378 290h2v1h-2zM398 290h1v1h-1zM148 291h1v1h-1zM152 291h1v1h-1zM267 291h2v1h-2zM292 291h1v1h-1zM295 291h1v1h-1zM319 291h1v1h-1zM321 291h1v1h-1zM325 291h1v1h-1zM333 291h1v1h-1zM343 291h1v1h-1zM367 291h1v1h-1zM378 291h2v1h-2zM398 291h1v1h-1zM148 292h1v1h-1zM151 292h1v1h-1zM266 292h7v1h-7zM292 292h1v1h-1zM294 292h1v1h-1zM320 292h2v1h-2zM324 292h1v1h-1zM333 292h1v1h-1zM343 292h1v1h-1zM367 292h1v1h-1zM370 292h1v1h-1zM375 292h1v1h-1zM378 292h2v1h-2zM381 292h1v1h-1zM398 292h1v1h-1zM148 293h1v1h-1zM150 293h1v1h-1zM265 293h1v1h-1zM292 293h2v1h-2zM320 293h4v1h-4zM333 293h1v1h-1zM343 293h1v1h-1zM363 293h1v1h-1zM367 293h1v1h-1zM369 293h1v1h-1zM376 293h1v1h-1zM378 293h1v1h-1zM380 293h1v1h-1zM398 293h1v1h-1zM148 294h2v1h-2zM264 294h1v1h-1zM292 294h6v1h-6zM321 294h1v1h-1zM333 294h1v1h-1zM339 294h1v1h-1zM343 294h1v1h-1zM364 294h1v1h-1zM367 294h2v1h-2zM375 294h1v1h-1zM377 294h3v1h-3zM388 294h1v1h-1zM398 294h1v1h-1zM400 294h1v1h-1zM148 295h6v1h-6zM257 295h1v1h-1zM262 295h2v1h-2zM268 295h1v1h-1zM330 295h1v1h-1zM333 295h1v1h-1zM336 295h1v1h-1zM340 295h1v1h-1zM343 295h1v1h-1zM346 295h1v1h-1zM365 295h4v1h-4zM376 295h1v1h-1zM378 295h1v1h-1zM382 295h1v1h-1zM388 295h1v1h-1zM398 295h1v1h-1zM400 295h1v1h-1zM257 296h1v1h-1zM261 296h1v1h-1zM267 296h1v1h-1zM331 296h1v1h-1zM333 296h1v1h-1zM335 296h1v1h-1zM341 296h2v1h-2zM345 296h1v1h-1zM367 296h1v1h-1zM377 296h2v1h-2zM381 296h1v1h-1zM388 296h1v1h-1zM398 296h1v1h-1zM400 296h1v1h-1zM257 297h1v1h-1zM260 297h1v1h-1zM265 297h2v1h-2zM332 297h3v1h-3zM341 297h4v1h-4zM368 297h1v1h-1zM377 297h4v1h-4zM388 297h1v1h-1zM399 297h2v1h-2zM177 298h1v1h-1zM257 298h1v1h-1zM259 298h1v1h-1zM264 298h1v1h-1zM333 298h1v1h-1zM342 298h1v1h-1zM368 298h1v1h-1zM371 298h1v1h-1zM378 298h1v1h-1zM388 298h1v1h-1zM399 298h2v1h-2zM402 298h1v1h-1zM410 298h1v1h-1zM177 299h1v1h-1zM255 299h1v1h-1zM257 299h3v1h-3zM263 299h1v1h-1zM364 299h1v1h-1zM368 299h1v1h-1zM370 299h1v1h-1zM388 299h1v1h-1zM395 299h1v1h-1zM399 299h3v1h-3zM410 299h1v1h-1zM176 300h1v1h-1zM254 300h1v1h-1zM257 300h6v1h-6zM365 300h1v1h-1zM368 300h2v1h-2zM387 300h1v1h-1zM396 300h1v1h-1zM399 300h2v1h-2zM410 300h1v1h-1zM412 300h1v1h-1zM176 301h1v1h-1zM222 301h1v1h-1zM244 301h1v1h-1zM253 301h1v1h-1zM258 301h1v1h-1zM260 301h2v1h-2zM366 301h4v1h-4zM384 301h1v1h-1zM387 301h1v1h-1zM397 301h4v1h-4zM409 301h1v1h-1zM412 301h1v1h-1zM167 302h1v1h-1zM175 302h1v1h-1zM222 302h2v1h-2zM242 302h2v1h-2zM252 302h1v1h-1zM256 302h1v1h-1zM258 302h2v1h-2zM368 302h1v1h-1zM385 302h1v1h-1zM387 302h1v1h-1zM391 302h1v1h-1zM396 302h1v1h-1zM399 302h1v1h-1zM409 302h1v1h-1zM412 302h1v1h-1zM455 302h1v1h-1zM166 303h1v1h-1zM175 303h1v1h-1zM221 303h1v1h-1zM223 303h1v1h-1zM241 303h1v1h-1zM246 303h1v1h-1zM251 303h1v1h-1zM255 303h1v1h-1zM258 303h3v1h-3zM386 303h2v1h-2zM390 303h1v1h-1zM397 303h1v1h-1zM399 303h1v1h-1zM403 303h1v1h-1zM409 303h1v1h-1zM412 303h1v1h-1zM454 303h1v1h-1zM159 304h1v1h-1zM164 304h2v1h-2zM174 304h1v1h-1zM221 304h2v1h-2zM233 304h1v1h-1zM239 304h2v1h-2zM246 304h1v1h-1zM250 304h1v1h-1zM254 304h1v1h-1zM261 304h3v1h-3zM386 304h4v1h-4zM398 304h2v1h-2zM402 304h1v1h-1zM409 304h1v1h-1zM411 304h1v1h-1zM413 304h1v1h-1zM421 304h1v1h-1zM454 304h1v1h-1zM159 305h1v1h-1zM163 305h1v1h-1zM170 305h1v1h-1zM174 305h1v1h-1zM188 305h1v1h-1zM221 305h2v1h-2zM233 305h1v1h-1zM238 305h1v1h-1zM242 305h2v1h-2zM246 305h2v1h-2zM249 305h1v1h-1zM253 305h1v1h-1zM387 305h1v1h-1zM398 305h4v1h-4zM405 305h1v1h-1zM409 305h1v1h-1zM411 305h1v1h-1zM413 305h1v1h-1zM421 305h1v1h-1zM433 305h2v1h-2zM453 305h1v1h-1zM159 306h1v1h-1zM162 306h1v1h-1zM171 306h1v1h-1zM173 306h1v1h-1zM188 306h1v1h-1zM220 306h1v1h-1zM222 306h1v1h-1zM233 306h2v1h-2zM236 306h2v1h-2zM240 306h2v1h-2zM246 306h3v1h-3zM251 306h2v1h-2zM399 306h1v1h-1zM406 306h1v1h-1zM409 306h1v1h-1zM411 306h3v1h-3zM421 306h1v1h-1zM433 306h2v1h-2zM453 306h1v1h-1zM480 306h1v1h-1zM488 306h2v1h-2zM158 307h1v1h-1zM160 307h2v1h-2zM171 307h1v1h-1zM173 307h1v1h-1zM176 307h1v1h-1zM187 307h1v1h-1zM220 307h2v1h-2zM232 307h2v1h-2zM235 307h1v1h-1zM238 307h2v1h-2zM246 307h2v1h-2zM250 307h1v1h-1zM407 307h2v1h-2zM411 307h2v1h-2zM420 307h1v1h-1zM432 307h2v1h-2zM448 307h1v1h-1zM452 307h1v1h-1zM479 307h1v1h-1zM485 307h3v1h-3zM158 308h2v1h-2zM172 308h1v1h-1zM174 308h2v1h-2zM187 308h1v1h-1zM216 308h1v1h-1zM219 308h1v1h-1zM221 308h1v1h-1zM232 308h3v1h-3zM236 308h2v1h-2zM246 308h6v1h-6zM407 308h6v1h-6zM420 308h1v1h-1zM432 308h2v1h-2zM443 308h1v1h-1zM448 308h1v1h-1zM451 308h1v1h-1zM479 308h1v1h-1zM483 308h2v1h-2zM158 309h3v1h-3zM172 309h2v1h-2zM187 309h1v1h-1zM217 309h1v1h-1zM219 309h2v1h-2zM232 309h4v1h-4zM247 309h2v1h-2zM408 309h1v1h-1zM411 309h2v1h-2zM414 309h1v1h-1zM420 309h1v1h-1zM432 309h2v1h-2zM443 309h1v1h-1zM448 309h1v1h-1zM451 309h1v1h-1zM478 309h1v1h-1zM480 309h3v1h-3zM161 310h3v1h-3zM187 310h1v1h-1zM217 310h4v1h-4zM222 310h1v1h-1zM232 310h2v1h-2zM235 310h3v1h-3zM247 310h6v1h-6zM409 310h2v1h-2zM412 310h2v1h-2zM420 310h1v1h-1zM432 310h2v1h-2zM443 310h1v1h-1zM449 310h2v1h-2zM478 310h2v1h-2zM186 311h1v1h-1zM218 311h1v1h-1zM220 311h2v1h-2zM223 311h1v1h-1zM234 311h2v1h-2zM408 311h5v1h-5zM416 311h1v1h-1zM420 311h2v1h-2zM431 311h2v1h-2zM443 311h1v1h-1zM449 311h2v1h-2zM452 311h3v1h-3zM480 311h2v1h-2zM183 312h1v1h-1zM186 312h1v1h-1zM218 312h2v1h-2zM221 312h2v1h-2zM236 312h1v1h-1zM409 312h2v1h-2zM412 312h1v1h-1zM415 312h1v1h-1zM417 312h1v1h-1zM420 312h2v1h-2zM423 312h1v1h-1zM428 312h2v1h-2zM431 312h2v1h-2zM443 312h1v1h-1zM449 312h3v1h-3zM482 312h1v1h-1zM184 313h1v1h-1zM186 313h1v1h-1zM219 313h2v1h-2zM410 313h2v1h-2zM414 313h1v1h-1zM418 313h2v1h-2zM421 313h2v1h-2zM429 313h4v1h-4zM443 313h1v1h-1zM479 313h1v1h-1zM184 314h1v1h-1zM186 314h1v1h-1zM189 314h1v1h-1zM410 314h4v1h-4zM418 314h4v1h-4zM429 314h4v1h-4zM434 314h2v1h-2zM443 314h1v1h-1zM466 314h1v1h-1zM478 314h1v1h-1zM185 315h1v1h-1zM187 315h2v1h-2zM411 315h1v1h-1zM419 315h1v1h-1zM421 315h1v1h-1zM430 315h5v1h-5zM443 315h1v1h-1zM466 315h1v1h-1zM477 315h1v1h-1zM185 316h2v1h-2zM193 316h1v1h-1zM200 316h2v1h-2zM210 316h1v1h-1zM421 316h1v1h-1zM430 316h3v1h-3zM443 316h1v1h-1zM465 316h1v1h-1zM476 316h1v1h-1zM193 317h1v1h-1zM200 317h2v1h-2zM210 317h1v1h-1zM421 317h1v1h-1zM440 317h1v1h-1zM443 317h1v1h-1zM446 317h1v1h-1zM465 317h1v1h-1zM475 317h1v1h-1zM192 318h1v1h-1zM199 318h2v1h-2zM209 318h1v1h-1zM420 318h1v1h-1zM441 318h3v1h-3zM445 318h1v1h-1zM465 318h1v1h-1zM470 318h1v1h-1zM475 318h1v1h-1zM192 319h1v1h-1zM199 319h2v1h-2zM209 319h1v1h-1zM417 319h1v1h-1zM420 319h1v1h-1zM439 319h1v1h-1zM442 319h3v1h-3zM464 319h1v1h-1zM470 319h1v1h-1zM474 319h1v1h-1zM192 320h1v1h-1zM199 320h1v1h-1zM209 320h1v1h-1zM418 320h1v1h-1zM420 320h1v1h-1zM424 320h1v1h-1zM440 320h1v1h-1zM442 320h2v1h-2zM446 320h1v1h-1zM464 320h1v1h-1zM470 320h1v1h-1zM473 320h1v1h-1zM192 321h1v1h-1zM198 321h2v1h-2zM209 321h1v1h-1zM419 321h2v1h-2zM423 321h1v1h-1zM441 321h2v1h-2zM445 321h1v1h-1zM460 321h1v1h-1zM463 321h1v1h-1zM470 321h1v1h-1zM472 321h1v1h-1zM191 322h1v1h-1zM194 322h1v1h-1zM198 322h1v1h-1zM208 322h1v1h-1zM419 322h4v1h-4zM441 322h4v1h-4zM461 322h1v1h-1zM463 322h1v1h-1zM470 322h2v1h-2zM188 323h1v1h-1zM191 323h1v1h-1zM194 323h1v1h-1zM198 323h1v1h-1zM205 323h1v1h-1zM208 323h1v1h-1zM211 323h1v1h-1zM420 323h1v1h-1zM442 323h1v1h-1zM461 323h1v1h-1zM463 323h1v1h-1zM466 323h1v1h-1zM470 323h6v1h-6zM189 324h1v1h-1zM191 324h1v1h-1zM194 324h2v1h-2zM197 324h1v1h-1zM206 324h1v1h-1zM208 324h1v1h-1zM211 324h1v1h-1zM233 324h1v1h-1zM462 324h1v1h-1zM464 324h2v1h-2zM189 325h1v1h-1zM191 325h1v1h-1zM193 325h3v1h-3zM197 325h1v1h-1zM200 325h1v1h-1zM206 325h1v1h-1zM208 325h1v1h-1zM210 325h2v1h-2zM233 325h1v1h-1zM462 325h2v1h-2zM190 326h1v1h-1zM192 326h2v1h-2zM195 326h6v1h-6zM207 326h1v1h-1zM209 326h2v1h-2zM232 326h2v1h-2zM190 327h2v1h-2zM193 327h1v1h-1zM196 327h4v1h-4zM207 327h2v1h-2zM210 327h1v1h-1zM232 327h2v1h-2zM193 328h1v1h-1zM196 328h2v1h-2zM209 328h1v1h-1zM232 328h1v1h-1zM192 329h1v1h-1zM209 329h1v1h-1zM231 329h2v1h-2zM189 330h1v1h-1zM192 330h1v1h-1zM205 330h1v1h-1zM208 330h1v1h-1zM231 330h2v1h-2zM190 331h1v1h-1zM192 331h1v1h-1zM206 331h1v1h-1zM208 331h1v1h-1zM227 331h1v1h-1zM230 331h2v1h-2zM190 332h1v1h-1zM192 332h1v1h-1zM195 332h1v1h-1zM206 332h1v1h-1zM208 332h1v1h-1zM211 332h1v1h-1zM228 332h1v1h-1zM230 332h2v1h-2zM191 333h1v1h-1zM193 333h2v1h-2zM207 333h1v1h-1zM209 333h2v1h-2zM228 333h1v1h-1zM230 333h2v1h-2zM233 333h1v1h-1zM191 334h2v1h-2zM207 334h2v1h-2zM227 334h1v1h-1zM229 334h4v1h-4zM228 335h3v1h-3zM228 336h1v1h-1zM230 336h1v1h-1zM233 336h1v1h-1zM229 337h1v1h-1zM231 337h2v1h-2zM229 338h2v1h-2z" fill="#ffff00"/>
<g fill="#ff0000"><rect x="72" y="138" width="473" height="1"/><rect x="72" y="235" width="473" height="1"/><rect x="72" y="332" width="473" height="1"/></g>
</g>
<g><text x="84" y="23" fill="#ffff00" font-size="13.33px" textLength="32" lengthAdjust="spacing">9116</text><text x="268" y="23" fill="#ffff00" font-size="13.33px" textLength="48" lengthAdjust="spacing">82.46S</text><text x="340" y="23" fill="#ffff00" font-size="13.33px" textLength="48" lengthAdjust="spacing">13.03W</text><text x="404" y="23" fill="#ffff00" font-size="13.33px" textLength="40" lengthAdjust="spacing">1968M</text><text x="68" y="36" fill="#ffff00" font-size="13.33px" textLength="168" lengthAdjust="spacing">24 May 2015/120000UTC</text><text x="244" y="36" fill="#ffff00" font-size="13.33px">-</text><text x="260" y="36" fill="#ffff00" font-size="13.33px" textLength="168" lengthAdjust="spacing">27 May 2015/000000UTC</text><text x="60" y="448" fill="#ffff00" font-size="13.33px" textLength="16" lengthAdjust="spacing">06</text><text x="99" y="448" fill="#ffff00" font-size="13.33px" textLength="16" lengthAdjust="spacing">12</text><text x="138" y="448" fill="#ffff00" font-size="13.33px" textLength="16" lengthAdjust="spacing">18</text><text x="177" y="448" fill="#ffff00" font-size="13.33px" textLength="16" lengthAdjust="spacing">00</text><text x="216" y="448" fill="#ffff00" font-size="13.33px" textLength="16" lengthAdjust="spacing">06</text><text x="256" y="448" fill="#ffff00" font-size="13.33px" textLength="16" lengthAdjust="spacing">12</text><text x="295" y="448" fill="#ffff00" font-size="13.33px" textLength="16" lengthAdjust="spacing">18</text><text x="334" y="448" fill="#ffff00" font-size="13.33px" textLength="16" lengthAdjust="spacing">00</text><text x="373" y="448" fill="#ffff00" font-size="13.33px" textLength="16" lengthAdjust="spacing">06</text><text x="412" y="448" fill="#ffff00" font-size="13.33px" textLength="16" lengthAdjust="spacing">12</text><text x="452" y="448" fill="#ffff00" font-size="13.33px" textLength="16" lengthAdjust="spacing">18</text><text x="491" y="448" fill="#ffff00" font-size="13.33px" textLength="16" lengthAdjust="spacing">00</text><text x="530" y="448" fill="#ffff00" font-size="13.33px" textLength="16" lengthAdjust="spacing">06</text><text x="161" y="461" fill="#ffff00" font-size="13.33px" textLength="48" lengthAdjust="spacing">25 May</text><text x="318" y="461" fill="#ffff00" font-size="13.33px" textLength="48" lengthAdjust="spacing">26 May</text><text x="475" y="461" fill="#ffff00" font-size="13.33px" textLength="48" lengthAdjust="spacing">27 May</text><text x="14" y="478" fill="#ffff00" font-size="13.33px">2</text><text x="553" y="65" fill="#ff0000" font-size="10px" textLength="30" lengthAdjust="spacing">-30.0</text><text x="553" y="84" fill="#ff0000" font-size="10px" textLength="30" lengthAdjust="spacing">-35.0</text><text x="553" y="104" fill="#ff0000" font-size="10px" textLength="30" lengthAdjust="spacing">-40.0</text><text x="553" y="123" fill="#ff0000" font-size="10px" textLength="30" lengthAdjust="spacing">-45.0</text><text x="553" y="142" fill="#ff0000" font-size="10px" textLength="30" lengthAdjust="spacing">-50.0</text><text x="553" y="162" fill="#ff0000" font-size="10px" textLength="30" lengthAdjust="spacing">760.0</text><text x="553" y="181" fill="#ff0000" font-size="10px" textLength="30" lengthAdjust="spacing">755.0</text><text x="553" y="201" fill="#ff0000" font-size="10px" textLength="30" lengthAdjust="spacing">750.0</text><text x="553" y="220" fill="#ff0000" font-size="10px" textLength="30" lengthAdjust="spacing">745.0</text><text x="553" y="239" fill="#ff0000" font-size="10px" textLength="30" lengthAdjust="spacing">740.0</text><text x="565" y="253" fill="#ff0000" font-size="10px" textLength="18" lengthAdjust="spacing">7.0</text><text x="565" y="267" fill="#ff0000" font-size="10px" textLength="18" lengthAdjust="spacing">6.0</text><text x="565" y="281" fill="#ff0000" font-size="10px" textLength="18" lengthAdjust="spacing">5.0</text><text x="565" y="295" fill="#ff0000" font-size="10px" textLength="18" lengthAdjust="spacing">4.0</text><text x="565" y="309" fill="#ff0000" font-size="10px" textLength="18" lengthAdjust="spacing">3.0</text><text x="565" y="323" fill="#ff0000" font-size="10px" textLength="18" lengthAdjust="spacing">2.0</text><text x="565" y="336" fill="#ff0000" font-size="10px" textLength="18" lengthAdjust="spacing">1.0</text><text x="559" y="353" fill="#ff0000" font-size="10px" textLength="24" lengthAdjust="spacing">65.0</text><text x="559" y="369" fill="#ff0000" font-size="10px" textLength="24" lengthAdjust="spacing">60.0</text><text x="559" y="385" fill="#ff0000" font-size="10px" textLength="24" lengthAdjust="spacing">55.0</text><text x="559" y="401" fill="#ff0000" font-size="10px" textLength="24" lengthAdjust="spacing">50.0</text><text x="559" y="417" fill="#ff0000" font-size="10px" textLength="24" lengthAdjust="spacing">45.0</text><text x="559" y="433" fill="#ff0000" font-size="10px" textLength="24" lengthAdjust="spacing">40.0</text><text x="588" y="93" fill="#ff0000" font-size="10px" textLength="24" lengthAdjust="spacing">T(C)</text><text x="588" y="190" fill="#ff0000" font-size="10px" textLength="48" lengthAdjust="spacing">Pre (mb)</text><text x="588" y="287" fill="#ff0000" font-size="10px" textLength="48" lengthAdjust="spacing">SPD(MPS)</text><text x="588" y="384" fill="#ff0000" font-size="10px" textLength="30" lengthAdjust="spacing">RH(%)</text></g>
</svg>
</body></html>
